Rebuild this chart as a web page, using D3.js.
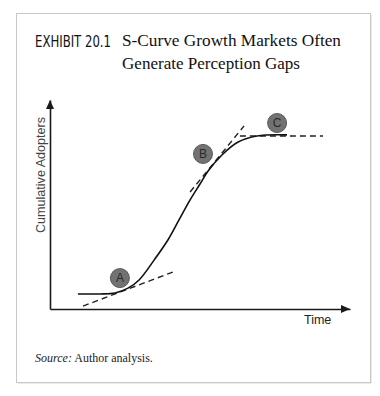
<!DOCTYPE html>
<html><head><meta charset="utf-8">
<script src="https://cdn.jsdelivr.net/npm/d3@7/dist/d3.min.js"></script>
<style>html,body{margin:0;padding:0;background:#fff;}svg{display:block;}</style>
</head><body>
<script>
// ---- data (time 0-100, cumulative adopters 0-100) ----
const curveTime     = [9.3, 16.7, 21.7, 26.0, 29.7, 34.7, 39.3, 43.0, 46.7, 50.0, 52.7, 57.3, 62.7, 69.0, 79.0];
const curveAdopters = [7.2, 7.2, 7.7, 10.0, 13.9, 23.4, 33.0, 42.6, 52.2, 59.8, 66.0, 73.7, 79.9, 82.8, 83.3];
const tangentNames  = ["A", "B", "C"];
const tangentT0 = [11.0, 46.7, 63.3];
const tangentV0 = [1.4, 56.0, 82.8];
const tangentT1 = [41.0, 64.7, 91.0];
const tangentV1 = [17.7, 87.6, 82.8];
const markerLabels = ["A", "B", "C"];
const markerTime     = [23.3, 51.0, 75.7];
const markerAdopters = [14.8, 74.2, 89.0];
const xLabel = "Time";
const yLabel = "Cumulative Adopters";
const exhibitText = "EXHIBIT 20.1";
const titleLines = ["S-Curve Growth Markets Often", "Generate Perception Gaps"];
const sourceLabel = "Source:";
const sourceText = "Author analysis.";

const W = 380, H = 396;
const svg = d3.select("body").append("svg").attr("width", W).attr("height", H);

// frame
svg.append("rect").attr("x", 17.5).attr("y", 14.5).attr("width", 354).attr("height", 369)
  .attr("fill", "#d8d8d8");
svg.append("rect").attr("x", 16.5).attr("y", 13.5).attr("width", 354).attr("height", 369)
  .attr("fill", "#fff").attr("stroke", "#c8c8c8").attr("stroke-width", 1);

// titles
svg.append("text").attr("x", 35).attr("y", 47).text(exhibitText)
  .attr("font-family", "'DejaVu Sans Condensed','Liberation Sans Narrow','DejaVu Sans',sans-serif")
  .attr("font-size", 15.5).attr("fill", "#111")
  .attr("textLength", 76).attr("lengthAdjust", "spacingAndGlyphs");
const titleWidths = [219, 178];
titleLines.forEach((t, i) => {
  svg.append("text").attr("x", 122).attr("y", 46 + i * 23).text(t)
    .attr("font-family", "'Liberation Serif','DejaVu Serif',serif")
    .attr("font-size", 16.5).attr("fill", "#111")
    .attr("textLength", titleWidths[i]).attr("lengthAdjust", "spacingAndGlyphs");
});

// scales
const x = d3.scaleLinear().domain([0, 100]).range([50, 350]);
const y = d3.scaleLinear().domain([0, 100]).range([309, 100]);

const axisColor = "#1a1a1a";
// axes (domain lines only)
svg.append("g").attr("transform", `translate(0,${y(0)})`)
  .call(d3.axisBottom(x).tickValues([]).tickSizeOuter(0))
  .call(g => g.select(".domain").attr("stroke", axisColor).attr("stroke-width", 1.6));
svg.append("g").attr("transform", `translate(${x(0)},0)`)
  .call(d3.axisLeft(y).tickValues([]).tickSizeOuter(0))
  .call(g => g.select(".domain").attr("stroke", axisColor).attr("stroke-width", 1.6));
// arrowheads
svg.append("path")
  .attr("d", `M${x(100)},${y(0)} L${x(100) - 9},${y(0) - 4} L${x(100) - 9},${y(0) + 4} Z`)
  .attr("fill", axisColor);
svg.append("path")
  .attr("d", `M${x(0)},${y(100)} L${x(0) - 4},${y(100) + 9} L${x(0) + 4},${y(100) + 9} Z`)
  .attr("fill", axisColor);

// axis labels
svg.append("text").attr("x", 304).attr("y", 324).text(xLabel)
  .attr("font-family", "'Liberation Sans',Arial,sans-serif").attr("font-size", 12.5)
  .attr("fill", "#222");
svg.append("text").attr("transform", `translate(45,175) rotate(-90)`)
  .attr("text-anchor", "middle").text(yLabel)
  .attr("font-family", "'Liberation Sans',Arial,sans-serif").attr("font-size", 12.5)
  .attr("fill", "#444").attr("textLength", 116).attr("lengthAdjust", "spacingAndGlyphs");

// tangent dashed lines
tangentNames.forEach((n, i) => {
  svg.append("line")
    .attr("x1", x(tangentT0[i])).attr("y1", y(tangentV0[i]))
    .attr("x2", x(tangentT1[i])).attr("y2", y(tangentV1[i]))
    .attr("stroke", "#222").attr("stroke-width", 1.4).attr("stroke-dasharray", "6,4");
});

// S-curve
const pts = curveTime.map((t, i) => [t, curveAdopters[i]]);
svg.append("path").datum(pts)
  .attr("d", d3.line().x(d => x(d[0])).y(d => y(d[1])).curve(d3.curveCatmullRom.alpha(0.5)))
  .attr("fill", "none").attr("stroke", "#111").attr("stroke-width", 1.6);

// markers
markerLabels.forEach((m, i) => {
  const cx = x(markerTime[i]), cy = y(markerAdopters[i]);
  svg.append("circle").attr("cx", cx).attr("cy", cy).attr("r", 9.5)
    .attr("fill", "#727272").attr("stroke", "#5a5a5a").attr("stroke-width", 1);
  svg.append("text").attr("x", cx).attr("y", cy + 4.3).attr("text-anchor", "middle").text(m)
    .attr("font-family", "'Liberation Sans',Arial,sans-serif").attr("font-size", 12)
    .attr("fill", "#2a2a2a");
});

// source
const src = svg.append("text").attr("x", 35).attr("y", 362)
  .attr("font-family", "'Liberation Serif','DejaVu Serif',serif").attr("font-size", 12)
  .attr("fill", "#222");
src.append("tspan").attr("font-style", "italic").text(sourceLabel);
src.append("tspan").text(" " + sourceText);
</script>
</body></html>
